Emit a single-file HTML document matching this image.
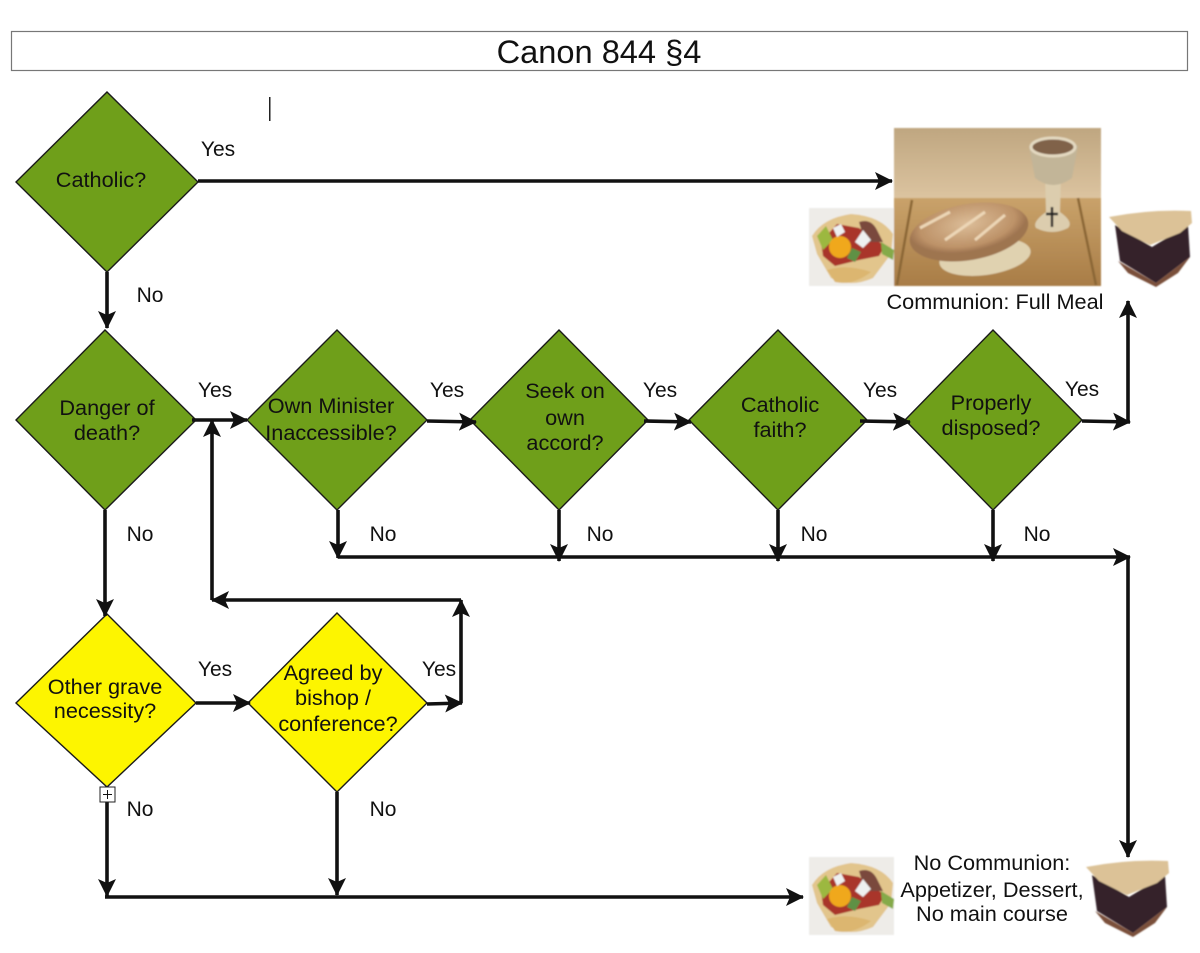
<!DOCTYPE html>
<html><head><meta charset="utf-8"><style>
html,body{margin:0;padding:0;background:#fff}
svg{display:block}
text{font-family:"Liberation Sans",sans-serif;font-size:21.7px;fill:#111;text-anchor:middle}
text.e{font-size:21px}
.d{stroke:#1a1a1a;stroke-width:1.4}
.g{fill:#6f9f1a}.y{fill:#fdf500}
.l{fill:none;stroke:#111;stroke-width:3.6}
</style></head><body>
<svg width="1200" height="953" viewBox="0 0 1200 953" xmlns="http://www.w3.org/2000/svg">
<defs>
<filter id="b" x="-5%" y="-5%" width="110%" height="110%"><feGaussianBlur stdDeviation="0.8"/></filter>
<marker id="a" markerUnits="userSpaceOnUse" markerWidth="20" markerHeight="20" refX="17" refY="9" orient="auto"><path d="M0,0L18,9L0,18L4,9Z" fill="#111"/></marker>
<linearGradient id="wall" x1="0" y1="0" x2="0" y2="1"><stop offset="0" stop-color="#bfa680"/><stop offset=".45" stop-color="#dcc4a0"/><stop offset="1" stop-color="#d6b88e"/></linearGradient>
<linearGradient id="tab" x1="0" y1="0" x2="0" y2="1"><stop offset="0" stop-color="#c9a26a"/><stop offset="1" stop-color="#a87c46"/></linearGradient>
<radialGradient id="bread" cx=".5" cy=".35"><stop offset="0" stop-color="#dcbd98"/><stop offset=".8" stop-color="#bd9268"/><stop offset="1" stop-color="#9e7450"/></radialGradient>
<g id="salad">
<rect width="85" height="78" fill="#eeece8"/>
<path d="M3,28Q14,10 42,6Q72,8 84,26L82,46L64,70Q42,80 22,70L8,46Z" fill="#e2c58c"/>
<path d="M12,34L28,16L50,20L76,38L70,48L50,52L26,58L14,48Z" fill="#a9352a"/>
<path d="M50,14Q62,10 68,22L74,34L56,34Z" fill="#7a4a3e"/>
<path d="M8,28L17,18L24,32L14,42Z" fill="#9cb840"/>
<path d="M72,34L85,42L84,52L73,46Z" fill="#85aa48"/>
<circle cx="31" cy="39" r="11" fill="#f0a81f"/>
<path d="M46,34L54,22L62,32L54,40Z" fill="#eef0f0"/>
<path d="M24,20L32,16L36,24L28,29Z" fill="#eef0f0"/>
<path d="M43,40L52,44L46,54L38,50Z" fill="#5f9145"/>
<path d="M18,62Q38,56 62,64Q44,78 26,74Z" fill="#dcb66f"/>
</g>
<g id="pie">
<path d="M7,14L44,36L80,14L82,46L48,72L12,50Z" fill="#35222c"/>
<path d="M1,6Q42,-2 83,0L84,12L72,22L42,34L14,20Z" fill="#dcc297"/>
<path d="M10,50L48,72L82,46L70,62L48,76L20,62Z" fill="#7a4f3a"/>
</g>
</defs>
<rect width="1200" height="953" fill="#fff"/>
<rect x="11.5" y="31.5" width="1176" height="39" fill="#fff" stroke="#777" stroke-width="1.2"/>
<text x="599" y="63" style="font-size:32.6px">Canon 844 §4</text>
<rect x="269" y="97" width="1.5" height="24" fill="#222"/>

<g filter="url(#b)">
<rect x="894" y="128" width="207" height="158" fill="url(#wall)"/>
<rect x="894" y="198" width="207" height="88" fill="url(#tab)"/>
<path d="M912,200L897,285M1078,198L1096,285" stroke="#8a6636" stroke-width="2.5" fill="none"/>
<ellipse cx="985" cy="257" rx="46" ry="18" fill="#e0d2b0" transform="rotate(-8 985 257)"/>
<ellipse cx="969" cy="232" rx="60" ry="28" fill="url(#bread)" transform="rotate(-10 969 232)"/>
<path d="M920,228L950,212M945,240L985,212M975,240L1005,215" stroke="#ecd6b6" stroke-width="3" fill="none"/>
<path d="M1045,176L1061,176L1060,212Q1074,222 1068,228Q1052,236 1036,228Q1032,222 1046,212Z" fill="#dccdae"/>
<path d="M1029,146Q1053,130 1078,146L1072,178Q1053,192 1035,178Z" fill="#c2b598"/>
<ellipse cx="1053" cy="147" rx="22" ry="9" fill="#80624a" stroke="#e3d8c0" stroke-width="3"/>
<path d="M1052,207V227M1046,214H1058" stroke="#222" stroke-width="2.4" fill="none"/>

<use href="#salad" x="809" y="208"/>
<use href="#salad" x="809" y="857"/>
<use href="#pie" x="1108" y="211"/>
<use href="#pie" x="1085" y="861"/>
</g>

<path class="d g" d="M107,92L198,182L107,272L16,182Z"/>
<path class="d g" d="M105,330L196,420L105,510L16,420Z"/>
<path class="d g" d="M337,330L427,420L337,510L247,420Z"/>
<path class="d g" d="M559,330L648,420L559,510L470,420Z"/>
<path class="d g" d="M778,330L867,420L778,510L689,420Z"/>
<path class="d g" d="M993,330L1082,420L993,510L905,420Z"/>
<path class="d y" d="M107,614L196,703L107,787L16,703Z"/>
<path class="d y" d="M337,613L427,703L337,792L248,703Z"/>

<path class="l" marker-end="url(#a)" d="M198,181H892"/>
<path class="l" marker-end="url(#a)" d="M107,272V328"/>
<path class="l" marker-end="url(#a)" d="M192,420H247"/>
<path class="l" marker-end="url(#a)" d="M427,421L476,422"/>
<path class="l" marker-end="url(#a)" d="M644,421L691,422"/>
<path class="l" marker-end="url(#a)" d="M860,421L910,422"/>
<path class="l" marker-end="url(#a)" d="M1082,421L1130,422"/>
<path class="l" marker-end="url(#a)" d="M1128,421V301"/>
<path class="l" marker-end="url(#a)" d="M105,510V616"/>
<path class="l" marker-end="url(#a)" d="M338,510V558"/>
<path class="l" marker-end="url(#a)" d="M559,510V561"/>
<path class="l" marker-end="url(#a)" d="M778,510V561"/>
<path class="l" marker-end="url(#a)" d="M993,510V561"/>
<path class="l" marker-end="url(#a)" d="M338,557H1130"/>
<path class="l" marker-end="url(#a)" d="M1128,557V857"/>
<path class="l" marker-end="url(#a)" d="M196,703H250"/>
<path class="l" marker-end="url(#a)" d="M427,704L462,703"/>
<path class="l" marker-end="url(#a)" d="M461,703V600"/>
<path class="l" marker-end="url(#a)" d="M461,600H212"/>
<path class="l" marker-end="url(#a)" d="M212,600V420"/>
<path class="l" marker-end="url(#a)" d="M107,787V896"/>
<path class="l" marker-end="url(#a)" d="M337,792V895"/>
<path class="l" marker-end="url(#a)" d="M105,897H803"/>

<rect x="100" y="787" width="15" height="15" fill="#fff" stroke="#222" stroke-width="1"/>
<path d="M103,794.5H112M107.5,790V799" stroke="#111" stroke-width="1" fill="none"/>

<text x="101" y="187">Catholic?</text>
<text x="107" y="415">Danger of</text><text x="107" y="440">death?</text>
<text x="331" y="413">Own Minister</text><text x="331" y="440">Inaccessible?</text>
<text x="565" y="398">Seek on</text><text x="565" y="425">own</text><text x="565" y="450">accord?</text>
<text x="780" y="412">Catholic</text><text x="780" y="437">faith?</text>
<text x="991" y="410">Properly</text><text x="991" y="435">disposed?</text>
<text x="105" y="694">Other grave</text><text x="105" y="718">necessity?</text>
<text x="333" y="680">Agreed by</text><text x="333" y="705">bishop /</text><text x="338" y="731">conference?</text>

<text class="e" x="218" y="156">Yes</text><text class="e" x="150" y="302">No</text>
<text class="e" x="215" y="397">Yes</text><text class="e" x="447" y="397">Yes</text><text class="e" x="660" y="397">Yes</text><text class="e" x="880" y="397">Yes</text><text class="e" x="1082" y="396">Yes</text>
<text class="e" x="140" y="541">No</text><text class="e" x="383" y="541">No</text><text class="e" x="600" y="541">No</text><text class="e" x="814" y="541">No</text><text class="e" x="1037" y="541">No</text>
<text class="e" x="215" y="676">Yes</text><text class="e" x="439" y="676">Yes</text>
<text class="e" x="140" y="816">No</text><text class="e" x="383" y="816">No</text>
<text x="995" y="309">Communion: Full Meal</text>
<text x="992" y="870">No Communion:</text><text x="992" y="897">Appetizer, Dessert,</text><text x="992" y="921">No main course</text>
</svg>
</body></html>
